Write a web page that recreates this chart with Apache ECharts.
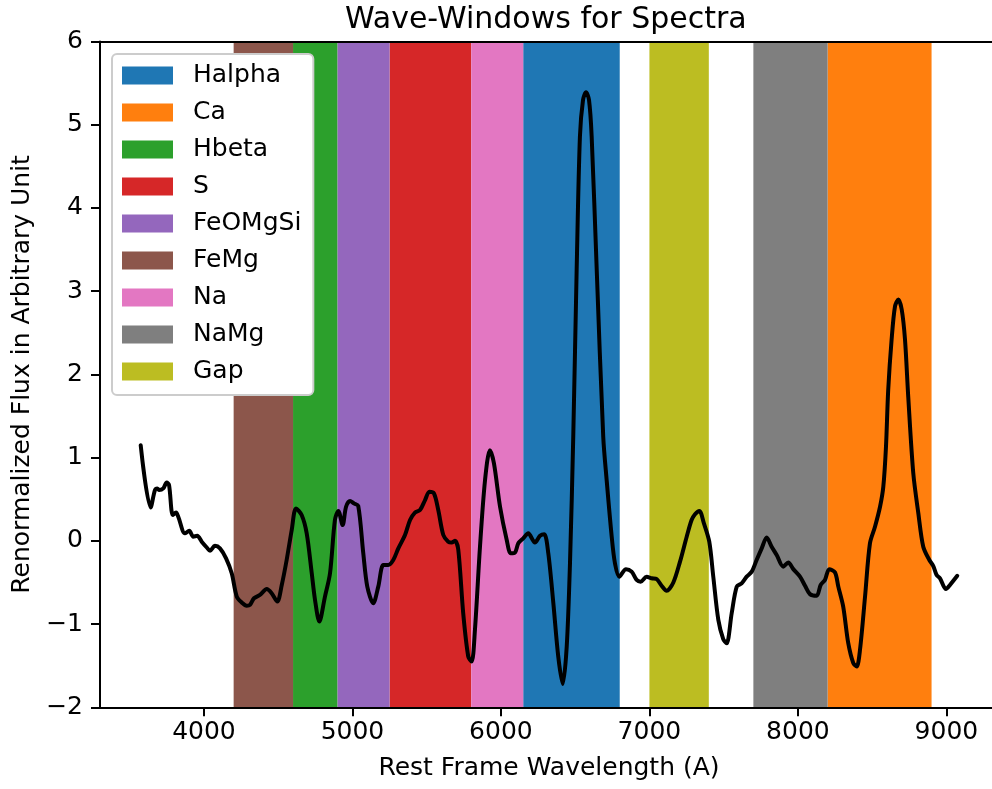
<!DOCTYPE html>
<html>
<head>
<meta charset="utf-8">
<title>Wave-Windows for Spectra</title>
<script src="https://cdn.jsdelivr.net/npm/echarts@6/dist/echarts.min.js"></script>
<style>
  html, body { margin: 0; padding: 0; background: #ffffff; }
  #chart { width: 992px; height: 789px; }
</style>
</head>
<body>
<div id="chart"></div>
<script>
// Rest-frame spectrum (wavelength in A, renormalized flux)
const wavelength = [
  3574,3641,3670,3686,3699,3726,3749,3765,3790,3812,
  3827,3872,3901,3928,3955,3985,4019,4041,4074,4108,
  4149,4187,4221,4254,4288,4310,4337,4377,4423,4456,
  4494,4524,4557,4591,4620,4658,4692,4726,4748,4777,
  4815,4849,4882,4905,4934,4957,4984,5010,5039,5073,
  5100,5140,5174,5208,5241,5275,5309,5354,5388,5421,
  5455,5489,5518,5549,5578,5612,5645,5668,5691,5713,
  5746,5780,5803,5825,5859,5893,5926,5953,5994,6039,
  6066,6095,6117,6150,6184,6229,6263,6292,6319,6353,
  6386,6416,6443,6465,6487,6510,6532,6553,6573,6593,
  6611,6645,6689,6712,6746,6768,6797,6842,6880,6914,
  6941,6981,7015,7049,7082,7116,7161,7206,7251,7284,
  7307,7336,7367,7403,7430,7464,7497,7520,7554,7588,
  7621,7655,7689,7722,7756,7790,7823,7857,7901,7935,
  7969,8014,8048,8081,8126,8153,8182,8211,8250,8272,
  8305,8339,8373,8396,8418,8452,8485,8519,8553,8575,
  8593,8608,8631,8654,8676,8699,8721,8743,8777,8811,
  8844,8885,8911,8934,8957,8997,9024,9073
];
const flux = [
  1.15,0.40,0.61,0.63,0.61,0.63,0.70,0.67,0.31,0.34,
  0.29,0.09,0.12,0.05,0.06,-0.01,-0.08,-0.12,-0.06,-0.09,
  -0.21,-0.39,-0.67,-0.74,-0.78,-0.77,-0.69,-0.65,-0.58,-0.63,
  -0.73,-0.53,-0.23,0.13,0.39,0.31,0.09,-0.39,-0.71,-0.97,
  -0.67,-0.39,0.25,0.36,0.19,0.41,0.48,0.45,0.42,-0.15,
  -0.55,-0.75,-0.55,-0.29,-0.29,-0.23,-0.09,0.07,0.25,0.34,
  0.37,0.49,0.59,0.57,0.37,0.07,-0.01,-0.02,0.00,-0.11,
  -0.87,-1.39,-1.45,-1.07,-0.07,0.73,1.09,0.93,0.41,0.01,
  -0.15,-0.14,-0.03,0.03,0.09,-0.02,0.06,0.08,-0.15,-0.75,
  -1.39,-1.72,-1.27,-0.27,1.25,3.26,4.86,5.30,5.39,5.30,
  4.86,3.26,1.25,0.73,0.05,-0.27,-0.43,-0.34,-0.37,-0.47,
  -0.49,-0.43,-0.45,-0.46,-0.54,-0.60,-0.50,-0.25,0.05,0.25,
  0.32,0.36,0.21,-0.01,-0.43,-0.95,-1.18,-1.23,-0.87,-0.55,
  -0.51,-0.43,-0.37,-0.23,-0.09,0.04,-0.07,-0.17,-0.31,-0.26,
  -0.34,-0.43,-0.54,-0.64,-0.66,-0.53,-0.47,-0.34,-0.38,-0.55,
  -0.79,-1.23,-1.47,-1.51,-1.31,-0.67,-0.03,0.17,0.41,0.65,
  1.13,1.81,2.42,2.82,2.90,2.78,2.42,1.73,0.81,0.33,
  -0.07,-0.23,-0.30,-0.41,-0.45,-0.58,-0.53,-0.42
];

// Wave windows (legend order)
const windowNames = ['Halpha', 'Ca', 'Hbeta', 'S', 'FeOMgSi', 'FeMg', 'Na', 'NaMg', 'Gap'];
const windowStart = [6150, 8200, 4600, 5250, 4900, 4200, 5800, 7700, 7000];
const windowEnd   = [6800, 8900, 4900, 5800, 5250, 4600, 6150, 8200, 7400];

// Axis ticks
const xTicks = [4000, 5000, 6000, 7000, 8000, 9000];

const palette = ['#1f77b4', '#ff7f0e', '#2ca02c', '#d62728', '#9467bd',
                 '#8c564b', '#e377c2', '#7f7f7f', '#bcbd22'];

const FONT = 'DejaVu Sans';
// Visible wavelength range; the plot runs to the right edge of the canvas
const X_MIN = 3300, X_MAX = 9307;

const spectrum = wavelength.map((w, i) => [w, flux[i]]);

const windowSeries = windowNames.map((name, i) => ({
  name: name,
  type: 'line',
  data: [],
  color: palette[i],
  itemStyle: { color: palette[i] },
  z: 1,
  silent: true,
  markArea: {
    silent: true,
    itemStyle: { color: palette[i], opacity: 1, borderWidth: 0 },
    label: { show: false },
    data: [[{ xAxis: windowStart[i] }, { xAxis: windowEnd[i] }]]
  }
}));

const chart = echarts.init(document.getElementById('chart'), null, { renderer: 'canvas' });

chart.setOption({
  animation: false,
  backgroundColor: '#ffffff',
  title: {
    text: 'Wave-Windows for Spectra',
    left: 345,
    top: 5,
    padding: 0,
    textStyle: { fontFamily: FONT, fontSize: 30, fontWeight: 'normal', color: '#000' }
  },
  legend: {
    data: windowNames,
    orient: 'vertical',
    left: 112,
    top: 54,
    padding: [9, 12, 11, 10],
    itemWidth: 51,
    itemHeight: 18,
    itemGap: 12,
    icon: 'rect',
    selectedMode: false,
    backgroundColor: '#ffffff',
    borderColor: '#cccccc',
    borderWidth: 2,
    borderRadius: 5,
    z: 10,
    textStyle: {
      fontFamily: FONT, fontSize: 25, lineHeight: 25, color: '#000',
      padding: [0, 0, 0, 15]
    }
  },
  grid: {
    left: 100,
    top: 41.5,
    right: 0,
    height: 665.8,
    show: false
  },
  xAxis: [{
    type: 'value',
    min: X_MIN,
    max: X_MAX,
    position: 'bottom',
    z: 5,
    name: 'Rest Frame Wavelength (A)',
    nameLocation: 'middle',
    nameGap: 49,
    nameTextStyle: { fontFamily: FONT, fontSize: 25, color: '#000', padding: [0, 0, 0, 6] },
    axisLine: { show: true, onZero: false, lineStyle: { color: '#000', width: 2 } },
    axisTick: { show: true, inside: false, length: 9, customValues: xTicks,
                lineStyle: { color: '#000', width: 2 } },
    axisLabel: { show: true, margin: 13, customValues: xTicks,
                 fontFamily: FONT, fontSize: 25, color: '#000',
                 formatter: v => String(v) },
    splitLine: { show: false }
  }, {
    type: 'value',
    min: X_MIN,
    max: X_MAX,
    position: 'top',
    z: 5,
    axisLine: { show: true, onZero: false, lineStyle: { color: '#000', width: 2 } },
    axisTick: { show: false },
    axisLabel: { show: false },
    splitLine: { show: false }
  }],
  yAxis: {
    type: 'value',
    min: -2,
    max: 6,
    interval: 1,
    z: 5,
    name: 'Renormalized Flux in Arbitrary Unit',
    nameLocation: 'middle',
    nameGap: 65,
    nameTextStyle: { fontFamily: FONT, fontSize: 25, color: '#000' },
    axisLine: { show: true, onZero: false, lineStyle: { color: '#000', width: 2 } },
    axisTick: { show: true, inside: false, length: 9, lineStyle: { color: '#000', width: 2 } },
    axisLabel: {
      margin: 17, fontFamily: FONT, fontSize: 25, color: '#000',
      formatter: v => String(v).replace('-', '\u2212')
    },
    splitLine: { show: false }
  },
  series: windowSeries.concat([{
    name: 'spectrum',
    type: 'line',
    data: spectrum,
    showSymbol: false,
    symbol: 'none',
    smooth: 0.3,
    z: 3,
    silent: true,
    lineStyle: { color: '#000000', width: 4, join: 'round', cap: 'round' }
  }])
});
</script>
</body>
</html>
